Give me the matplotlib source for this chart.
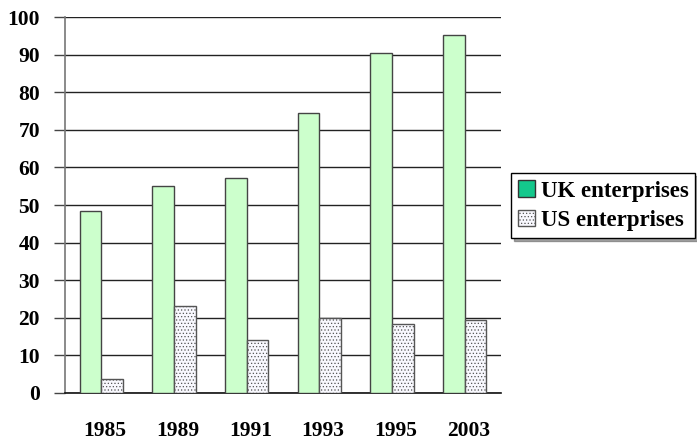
import matplotlib
matplotlib.use("Agg")
import matplotlib.pyplot as plt
import numpy as np
from matplotlib.patches import Patch

# ── data ──
years = ["1985", "1989", "1991", "1993", "1995", "2003"]
uk_enterprises = [48.3, 55.0, 57.3, 74.6, 90.4, 95.1]
us_enterprises = [3.6, 23.2, 14.2, 20.0, 18.4, 19.4]
y_ticks = [0, 10, 20, 30, 40, 50, 60, 70, 80, 90, 100]

plt.rcParams["font.family"] = ["Liberation Serif", "DejaVu Serif"]
plt.rcParams["font.weight"] = "bold"
plt.rcParams["hatch.color"] = "#dcdcf6"
plt.rcParams["hatch.linewidth"] = 0.5

FS = 15.5

fig = plt.figure(figsize=(6.97, 4.42), dpi=100)
ax = fig.add_axes([65 / 697, 49 / 442, 436 / 697, 376 / 442])

x = np.arange(len(years))
w = 0.3
ax.bar(x - w, uk_enterprises, w, align="edge", color="#ccffcc",
       edgecolor="#444444", linewidth=1.0, zorder=3)
ax.bar(x, us_enterprises, w, align="edge", color="#f8f8fe",
       edgecolor="#555555", linewidth=1.0, hatch=".....", zorder=3)

ax.set_xlim(-0.5, len(years) - 0.5)
ax.set_ylim(0, 100)
ax.set_yticks(y_ticks)
ax.set_xticks(x + 0.05)
ax.set_xticklabels(years, fontsize=FS, fontweight="bold")
ax.tick_params(axis="x", length=0, pad=20)
ax.tick_params(axis="y", length=8, width=1, color="#444444", labelsize=FS, pad=10)
for lbl in ax.get_yticklabels():
    lbl.set_fontweight("bold")

ax.yaxis.grid(True, color="#222222", linewidth=1.0, zorder=0)
ax.set_axisbelow(True)
for s in ["top", "right"]:
    ax.spines[s].set_visible(False)
ax.spines["left"].set_color("#777777")
ax.spines["left"].set_linewidth(1.2)
ax.spines["bottom"].set_color("#111111")
ax.spines["bottom"].set_linewidth(1.2)

handles = [Patch(facecolor="#14c88c", edgecolor="#333333", label="UK enterprises"),
           Patch(facecolor="#f8f8fe", edgecolor="#555555", hatch=".....",
                 label="US enterprises")]
leg = fig.legend(handles=handles, loc="center left", bbox_to_anchor=(0.733, 0.535),
                 frameon=True, shadow=True, fancybox=False, fontsize=16.5,
                 handlelength=0.75, handleheight=0.75, handletextpad=0.25,
                 borderpad=0.3, labelspacing=0.35, borderaxespad=0)
leg.get_frame().set_edgecolor("black")
leg.get_frame().set_linewidth(1.0)
for t in leg.get_texts():
    t.set_fontweight("bold")

fig.savefig("out.png", dpi=100)
